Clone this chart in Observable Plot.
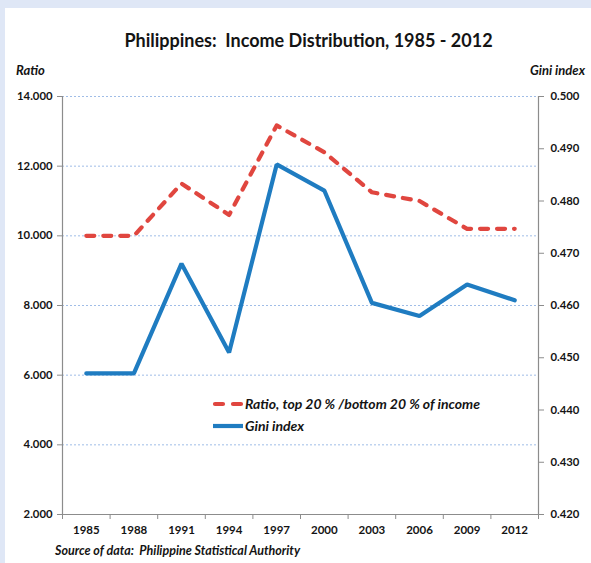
<!DOCTYPE html>
<html>
<head>
<meta charset="utf-8">
<script src="https://cdn.jsdelivr.net/npm/d3@7"></script>
<script src="https://cdn.jsdelivr.net/npm/@observablehq/plot@0.6"></script>
<style>
  html, body { margin: 0; padding: 0; background: #dfe7f6; }
  #page { position: relative; width: 591px; height: 563px; background: #dfe7f6; overflow: hidden;
          font-family: Lato, "Open Sans", sans-serif; color: #141414; }
  #card { position: absolute; left: 5px; top: 8px; right: 0; bottom: 0; background: #fff; }
  .abs { position: absolute; white-space: nowrap; }
  #title { left: 0; width: 617px; top: 29px; text-align: center; font-weight: bold; font-size: 18px; }
  .axtitle { font-style: italic; font-weight: bold; font-size: 13px; top: 62px; }
  #ratioTitle { left: 16px; }
  #giniTitle { right: 6px; }
  #source { left: 55px; top: 543px; font-style: italic; font-weight: bold; font-size: 12.5px; }
  #chart { position: absolute; left: 0; top: 80px; }
  .legend { left: 212px; font-style: italic; font-weight: bold; font-size: 14px; display: flex; align-items: center; line-height: 16px; }
  .legend svg { display: block; margin-right: 1px; }
</style>
</head>
<body>
<div id="page">
  <div id="card"></div>
  <div id="title" class="abs">Philippines:&nbsp; Income Distribution, 1985 - 2012</div>
  <div id="ratioTitle" class="abs axtitle">Ratio</div>
  <div id="giniTitle" class="abs axtitle">Gini index</div>
  <div id="chart"></div>
  <div id="legendRatio" class="abs legend" style="top:396px"></div>
  <div id="legendGini" class="abs legend" style="top:418px"></div>
  <div id="source" class="abs">Source of data:&nbsp; Philippine Statistical Authority</div>
</div>
<script>
// Survey years
const years = [1985, 1988, 1991, 1994, 1997, 2000, 2003, 2006, 2009, 2012];
// Income of the top 20 % divided by income of the bottom 20 %
const ratio = [10.0, 10.0, 11.5, 10.6, 13.17, 12.4, 11.25, 11.0, 10.2, 10.2];
// Gini index
const gini = [0.447, 0.447, 0.468, 0.451, 0.487, 0.482, 0.4605, 0.458, 0.464, 0.461];
// Axis ticks
const ratioTicks = [2, 4, 6, 8, 10, 12, 14];
const giniTicks = [0.42, 0.43, 0.44, 0.45, 0.46, 0.47, 0.48, 0.49, 0.50];

const ratioLabel = "Ratio, top 20 % /bottom 20 % of income";
const giniLabel = "Gini index";

const redColor = "#e0463f";
const blueColor = "#1f7cc1";
const axisGray = "#8c8c8c";

// The Gini index shares the ratio's vertical scale: 0.42–0.50 maps onto 2–14
const [g0, g1] = [giniTicks[0], giniTicks[giniTicks.length - 1]];
const [r0, r1] = [ratioTicks[0], ratioTicks[ratioTicks.length - 1]];
const toRatio = g => r0 + (g - g0) * (r1 - r0) / (g1 - g0);
const toGini = r => g0 + (r - r0) * (g1 - g0) / (r1 - r0);

const rows = years.map((year, i) => ({year, ratio: ratio[i], gini: gini[i]}));

// Category slots: each year sits in the middle of a 3-year band
const step = years[1] - years[0];
const xDomain = [years[0] - step / 2, years[years.length - 1] + step / 2];
const boundaries = years.map(y => y - step / 2).concat(xDomain[1]);

const fmt3 = d3.format(".3f");

const chart = Plot.plot({
  width: 591,
  height: 465,
  marginTop: 16,
  marginBottom: 31,
  marginLeft: 62,
  marginRight: 53,
  style: {fontFamily: "Lato, 'Open Sans', sans-serif", fontSize: "11.3px", fontWeight: "bold", color: "#141414", background: "transparent"},
  x: {domain: xDomain},
  y: {domain: [r0, r1]},
  marks: [
    Plot.gridY(ratioTicks.filter(t => t > r0), {stroke: "#8fb1e3", strokeOpacity: 0.85, strokeDasharray: "2,2"}),
    Plot.ruleY([r0], {stroke: axisGray, strokeWidth: 1.2}),
    Plot.ruleX([xDomain[0]], {stroke: axisGray, strokeWidth: 1.2}),
    Plot.ruleX([xDomain[1]], {stroke: axisGray, strokeWidth: 1.2}),
    // year labels centred in their slots
    Plot.axisX({ticks: years, tickSize: 0, tickPadding: 11, tickFormat: d => String(d), fontSize: 11.5, label: null}),
    // tick marks between slots
    Plot.axisX({ticks: boundaries, tickSize: 5, tickFormat: () => "", stroke: axisGray, label: null}),
    Plot.axisY({anchor: "left", ticks: ratioTicks, tickSize: 5, tickPadding: 5, tickFormat: fmt3, stroke: axisGray, label: null}),
    Plot.axisY({anchor: "right", ticks: giniTicks.map(toRatio), tickSize: 5, tickPadding: 7,
                tickFormat: d => fmt3(toGini(d)), stroke: axisGray, label: null}),
    Plot.line(rows, {x: "year", y: "ratio", stroke: redColor, strokeWidth: 4.2,
                     strokeDasharray: "8,9", strokeLinecap: "round", strokeLinejoin: "round"}),
    Plot.line(rows, {x: "year", y: d => toRatio(d.gini), stroke: blueColor, strokeWidth: 4.2,
                     strokeLinejoin: "miter"})
  ]
});
document.getElementById("chart").appendChild(chart);

// Legend entries
function swatch(color, dash) {
  const ns = "http://www.w3.org/2000/svg";
  const svg = document.createElementNS(ns, "svg");
  svg.setAttribute("width", 32);
  svg.setAttribute("height", 10);
  const line = document.createElementNS(ns, "line");
  line.setAttribute("x1", dash ? 3 : 1);
  line.setAttribute("x2", dash ? 29 : 31);
  line.setAttribute("y1", 5);
  line.setAttribute("y2", 5);
  line.setAttribute("stroke", color);
  line.setAttribute("stroke-width", 4.2);
  if (dash) {
    line.setAttribute("stroke-dasharray", "8,10");
    line.setAttribute("stroke-linecap", "round");
  }
  svg.appendChild(line);
  return svg;
}
const lr = document.getElementById("legendRatio");
lr.appendChild(swatch(redColor, true));
lr.appendChild(document.createTextNode(ratioLabel));
const lg = document.getElementById("legendGini");
lg.appendChild(swatch(blueColor, false));
lg.appendChild(document.createTextNode(giniLabel));
</script>
</body>
</html>
